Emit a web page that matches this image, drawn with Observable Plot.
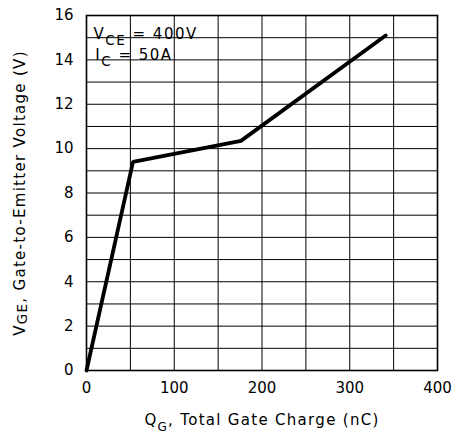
<!DOCTYPE html>
<html>
<head>
<meta charset="utf-8">
<script src="https://cdn.jsdelivr.net/npm/d3@7"></script>
<script src="https://cdn.jsdelivr.net/npm/@observablehq/plot@0.6"></script>
<style>
  html, body { margin: 0; padding: 0; background: #fff; }
  svg { font-family: "DejaVu Sans", sans-serif; }
</style>
</head>
<body>
<div id="chart"></div>
<script>
// Gate charge curve (nC, V)
const gateCharge = [0, 53, 176, 341];
const gateVoltage = [0, 9.4, 10.35, 15.1];

const xTicks = [0, 100, 200, 300, 400];
const yTicks = [0, 2, 4, 6, 8, 10, 12, 14, 16];
const xGrid = [0, 50, 100, 150, 200, 250, 300, 350, 400];
const yGrid = [0, 1, 2, 3, 4, 5, 6, 7, 8, 9, 10, 11, 12, 13, 14, 15, 16];

const noteText = ["V_CE = 400V", "I_C = 50A"];
const noteX = [8, 10];
const noteY = [15.15, 14.2];

const curve = gateCharge.map((q, i) => ({q, v: gateVoltage[i]}));
const notes = noteText.map((t, i) => ({t, x: noteX[i], y: noteY[i]}));

const chart = Plot.plot({
  width: 458,
  height: 436,
  marginLeft: 86,
  marginRight: 21,
  marginTop: 15,
  marginBottom: 66,
  style: {fontFamily: "DejaVu Sans, sans-serif", fontSize: "15px", color: "#000", background: "#fff"},
  x: {domain: [0, 400]},
  y: {domain: [0, 16]},
  marks: [
    Plot.gridX(xGrid, {stroke: "#000", strokeOpacity: 1, strokeWidth: 1}),
    Plot.gridY(yGrid, {stroke: "#000", strokeOpacity: 1, strokeWidth: 1}),
    Plot.text(notes, {x: "x", y: "y", text: "t", textAnchor: "start", fontSize: 15, fill: "#000", ariaLabel: "note"}),
    Plot.frame({stroke: "#000", strokeWidth: 1.6}),
    Plot.axisX(xTicks, {tickSize: 0, tickPadding: 12, fontSize: 15, label: "Q_G, Total Gate Charge (nC)", labelAnchor: "center", labelOffset: 54, labelArrow: "none"}),
    Plot.axisY(yTicks, {tickSize: 0, tickPadding: 13, fontSize: 15, label: "V_GE, Gate-to-Emitter Voltage (V)", labelAnchor: "center", labelOffset: 72, labelArrow: "none"}),
    Plot.line(curve, {x: "q", y: "v", stroke: "#000", strokeWidth: 3.8, strokeLinejoin: "miter"})
  ]
});

// Render subscripts written as "X_SUB rest"
const ns = "http://www.w3.org/2000/svg";
d3.select(chart).selectAll("text").each(function() {
  const el = this;
  const targets = el.querySelectorAll("tspan").length ? Array.from(el.querySelectorAll("tspan")) : [el];
  targets.forEach(node => {
    const s = node.textContent;
    const m = s.match(/^([A-Z])_([A-Z]+)(.*)$/);
    if (!m) return;
    const isLabel = /Gate/.test(s);
    const isQ = /Charge/.test(s);
    node.textContent = "";
    node.setAttribute("letter-spacing", isLabel ? "1.3" : "1.5");
    const a = document.createElementNS(ns, "tspan"); a.textContent = m[1];
    const b = document.createElementNS(ns, "tspan"); b.textContent = m[2];
    const drop = isQ ? 0.5 : (isLabel ? 0.15 : 0.45);
    const fs = isQ ? 0.8 : 0.9;
    b.setAttribute("dy", drop + "em"); b.setAttribute("font-size", fs + "em");
    const c = document.createElementNS(ns, "tspan"); c.textContent = m[3];
    c.setAttribute("dy", (-drop * fs) + "em");
    node.append(a, b, c);
  });
});

document.getElementById("chart").append(chart);

// White backing box behind the test-condition note (derived from its rendered bbox)
const noteG = chart.querySelector('g[aria-label="note"]');
if (noteG) {
  const bb = noteG.getBBox();
  const r = document.createElementNS(ns, "rect");
  r.setAttribute("x", bb.x - 2);
  r.setAttribute("y", bb.y - 4);
  r.setAttribute("width", bb.width + 4);
  r.setAttribute("height", bb.height + 7);
  r.setAttribute("fill", "#fff");
  noteG.insertBefore(r, noteG.firstChild);
}
</script>
</body>
</html>
